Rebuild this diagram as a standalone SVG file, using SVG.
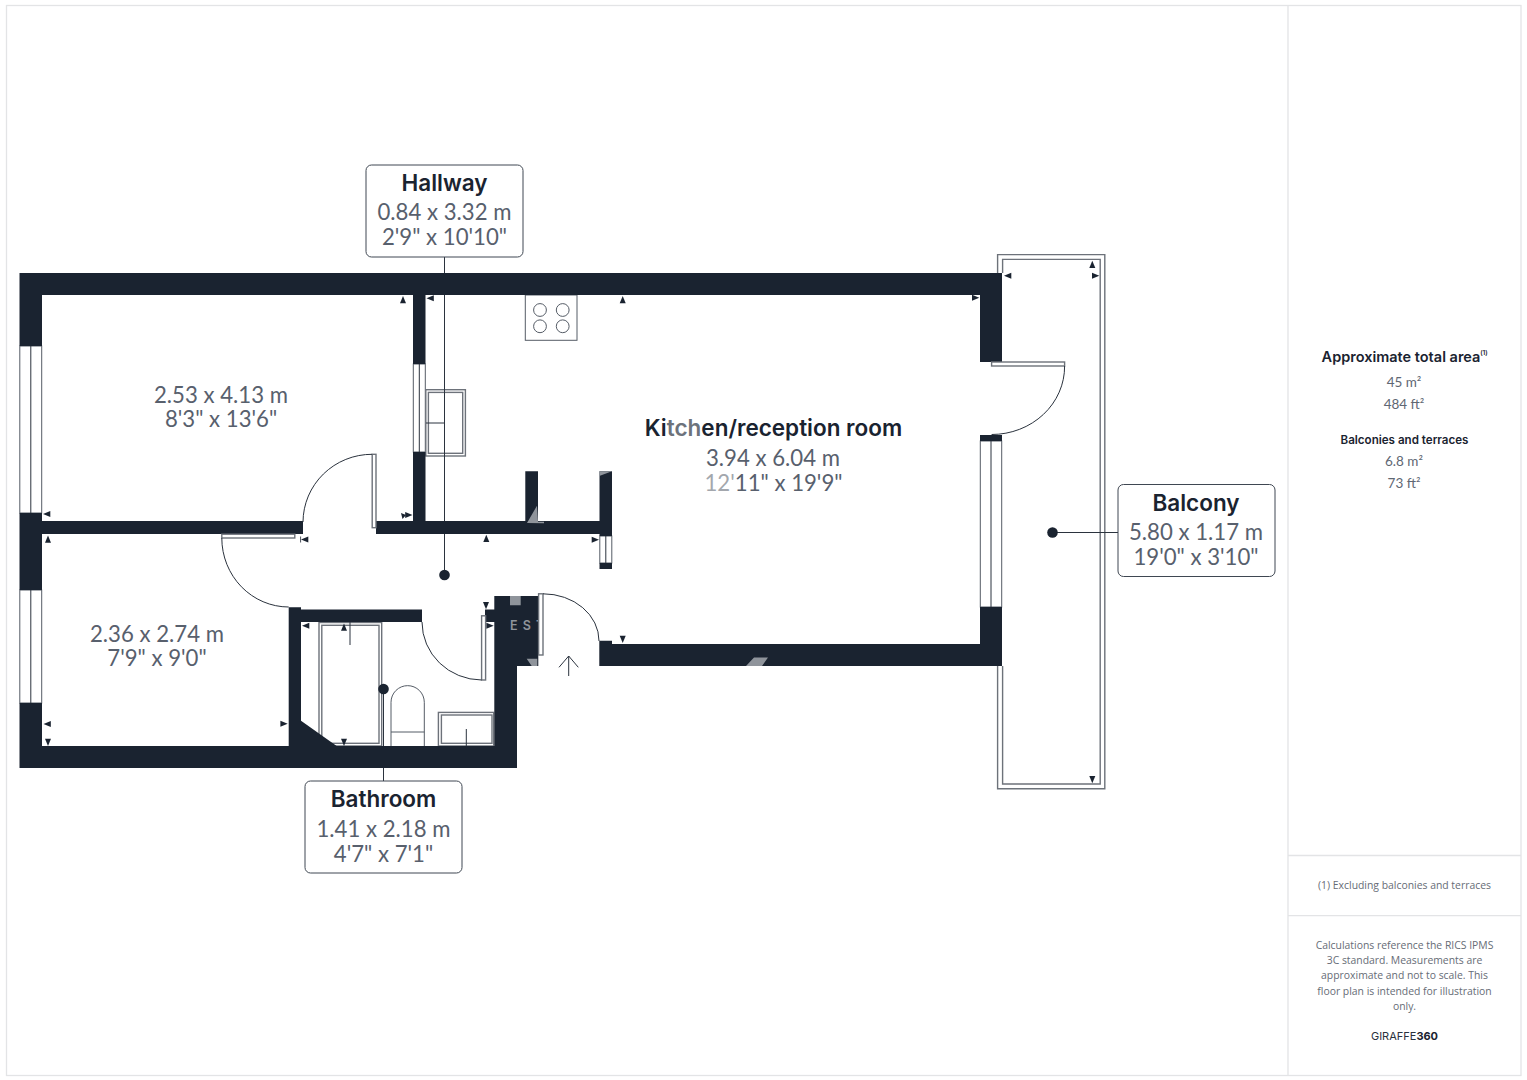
<svg xmlns="http://www.w3.org/2000/svg" width="1527" height="1080" viewBox="0 0 1527 1080">
<style>
.frame{fill:none;stroke:#e3e4e6;stroke-width:1.3}
.wall{fill:#1a2330}
.thin{fill:#fff;stroke:#555c66;stroke-width:1}
.thick{fill:#fff;stroke:#6d727a;stroke-width:1.4}
.open{fill:none;stroke:#6d727a;stroke-width:1.4}
.arc{fill:none;stroke:#2a323d;stroke-width:1}
.ghost{fill:#8f949b}
.lead{fill:none;stroke:#2b333e;stroke-width:1}
.dot{fill:#1a2330}
.box{fill:#fff;stroke:#3f4752;stroke-width:1}
.h{font-family:"Inter","Liberation Sans",sans-serif;font-weight:600;font-size:22.5px;fill:#1a2330;text-anchor:middle}
.d{font-family:"Lato","Liberation Sans",sans-serif;font-weight:400;font-size:22.2px;fill:#58606d;text-anchor:middle}
.sh{font-family:"Inter","Liberation Sans",sans-serif;font-weight:600;fill:#1a2330;text-anchor:middle}
.sv{font-family:"Lato","Liberation Sans",sans-serif;font-size:13.5px;fill:#606773;text-anchor:middle}
.n{font-family:"Open Sans","Noto Sans",sans-serif;font-size:10.4px;fill:#666c76;text-anchor:middle}
.m{fill:#1a2330}
</style>
<defs>
<path id="up" d="M0 0L3 7.3H-3Z"/>
<path id="dn" d="M0 0L3 -7.3H-3Z"/>
<path id="lf" d="M0 0L7.3 -3V3Z"/>
<path id="rt" d="M0 0L-7.3 -3V3Z"/>
<clipPath id="estclip"><rect x="500" y="610" width="38.6" height="30"/></clipPath>
</defs>

<g id="sheet-frame">
<rect class="frame" x="6.5" y="5.5" width="1514.5" height="1070"/>
<path class="frame" d="M1288 5.5V1075.5M1288 855.5H1521M1288 915.7H1521"/>
</g>

<g id="balcony-slab">
<path class="open" d="M997.6 273V254.6H1104.8V788.8H997.6V666"/>
<path class="open" d="M1002.6 273V259.4H1100.2V784H1002.6V666"/>
</g>

<g id="windows">
<g class="thin">
<rect x="19.8" y="346" width="21.9" height="167"/>
<rect x="19.8" y="590" width="21.9" height="113"/>
<rect x="413.3" y="364" width="12" height="88"/>
<rect x="599.8" y="536" width="12" height="27"/>
<rect x="980.3" y="441" width="21.4" height="166"/>
</g>
<path class="lead" d="M30.8 346V513M30.8 590V703M419.3 364V452M605.8 536V563M991 441V607"/>
</g>

<g id="fixtures">
<rect class="thin" x="525.3" y="295" width="51.7" height="45.3"/>
<g class="thin"><circle cx="540" cy="310" r="6.4"/><circle cx="562.7" cy="310" r="6.4"/><circle cx="540" cy="326.3" r="6.4"/><circle cx="562.7" cy="326.3" r="6.4"/></g>
<rect class="thick" x="425.8" y="389.7" width="39.6" height="66.3"/>
<rect class="thick" x="428.4" y="392.4" width="34.3" height="60.9"/>
<path class="lead" d="M426 423H445"/>
<rect class="thick" x="319" y="622.5" width="62.7" height="123.5"/>
<rect class="thick" x="321.8" y="625.3" width="57.2" height="118"/>
<path class="lead" d="M350 622V645"/>
<path class="thin" d="M391 746V702.3A16.6 16.6 0 0 1 424.3 702.3V746M391 732H424.3"/>
<rect class="thick" x="438.4" y="712.4" width="55.3" height="33.6"/>
<rect class="thick" x="441.4" y="715" width="50.6" height="28.3"/>
<path class="lead" d="M466.3 729V746"/>
<path class="lead" d="M559 667.3L568.7 656L578.3 667.3M568.7 656V676"/>
</g>

<g id="walls">
<path class="wall" d="M19.5 273H1002V362H980V295H425.5V364H413V295H42V346H19.5ZM19.5 513H42V521H303V534H42V590H19.5ZM19.5 703H42V746H288.7V607.3H301V609.5H422V622H301V720.7L336.7 746H494.3V622H485V609.5H494.3V596H538.3V666H517V768H19.5ZM413 452H425.5V521H525.3V471.3H538V521H599.5V471.3H612V536H599.5V534H376V521H413ZM599.5 563H612V569H599.5ZM980 435H1002V441H980ZM980 607H1002V666H599.3V640.7H612V644H980Z"/>
</g>

<g id="watermark-remnants">
<path class="ghost" d="M527 523L537 505.7L538 521.7L544 521.7V523.3ZM599.3 471.3H612L599.3 476ZM510 596H520.7V605.3H510ZM526.7 658.7H537.3V666H531.7ZM746 666L754 657.5H768L762 666Z"/>
<text clip-path="url(#estclip)" x="510" y="630" font-family="Inter,'Liberation Sans',sans-serif" font-weight="600" font-size="12.5" letter-spacing="5.2" fill="#8f949b">EST</text>
</g>

<g id="doors">
<rect class="thick" x="372.2" y="454.3" width="3.8" height="73.4"/>
<path class="arc" d="M372.2 454.3A69 68 0 0 0 303 522"/>
<rect class="thick" x="221.8" y="534.2" width="73" height="3.8"/>
<path class="arc" d="M221.8 538A67 69 0 0 0 288.7 607"/>
<rect class="thick" x="481.6" y="615.8" width="4" height="64.2"/>
<path class="arc" d="M481.6 680A60 58 0 0 1 422 622"/>
<rect class="thick" x="538.6" y="593.8" width="4.4" height="61.2"/>
<path class="arc" d="M543 593.8A56 47 0 0 1 599 641"/>
<rect class="thick" x="991.6" y="362" width="73" height="4"/>
<path class="arc" d="M1064.6 366A73 68 0 0 1 991.6 434.5"/>
</g>

<g id="dimension-ticks" class="m">
<use href="#lf" x="43" y="514"/><use href="#up" x="48" y="535.5"/><use href="#lf" x="301" y="539.5"/>
<path d="M300.6 536.5V542.5" stroke="#1a2330" stroke-width="0.8"/>
<use href="#up" x="403" y="296"/><use href="#lf" x="426.5" y="298.3"/><use href="#up" x="622.7" y="296"/>
<use href="#rt" x="412.5" y="515"/><path d="M401 513L406 515L402.5 519Z"/>
<use href="#up" x="486.3" y="534.8"/><use href="#rt" x="599" y="539.7"/>
<use href="#lf" x="302" y="625.7"/><use href="#up" x="344" y="623.4"/><use href="#dn" x="344" y="746"/>
<use href="#rt" x="287.7" y="723.7"/><use href="#dn" x="486" y="609.2"/><use href="#rt" x="493.7" y="625.7"/>
<use href="#dn" x="622.7" y="643"/><use href="#rt" x="979.3" y="297.7"/><use href="#lf" x="1004" y="275.7"/>
<use href="#rt" x="1099.3" y="275.7"/><use href="#up" x="1092.3" y="260.7"/><use href="#dn" x="1092.3" y="783.3"/>
<use href="#lf" x="43.5" y="724"/><use href="#dn" x="48" y="746"/>
</g>

<g id="connectors">
<path class="lead" d="M444.5 257V273M444.5 295V521M444.5 534V575"/>
<path class="lead" d="M383.5 689V746M383.5 768V781"/>
<path class="lead" d="M1052.5 532.5H1118"/>
<circle class="dot" cx="444.5" cy="575" r="5.3"/>
<circle class="dot" cx="383.5" cy="689" r="5.3"/>
<circle class="dot" cx="1052.5" cy="532.5" r="5.3"/>
</g>

<g id="room-bedroom-1">
<text class="d" x="221" y="403">2.53 x 4.13 m<tspan x="221" dy="24">8'3" x 13'6"</tspan></text>
</g>
<g id="room-bedroom-2">
<text class="d" x="157" y="642">2.36 x 2.74 m<tspan x="157" dy="24">7'9" x 9'0"</tspan></text>
</g>
<g id="room-kitchen">
<text class="h" x="773.5" y="436">Ki<tspan fill="#6d737c">tch</tspan>en/reception room</text>
<text class="d" x="773" y="466">3.94 x 6.04 m<tspan x="773.5" dy="24.5"><tspan fill="#a3a7ad">12'</tspan>11" x 19'9"</tspan></text>
</g>
<g id="label-hallway">
<rect class="box" x="366" y="165" width="157" height="92" rx="5.5"/>
<text class="h" x="444.5" y="191">Hallway</text>
<text class="d" x="444.5" y="220">0.84 x 3.32 m<tspan x="444.5" dy="25">2'9" x 10'10"</tspan></text>
</g>
<g id="label-bathroom">
<rect class="box" x="305" y="781" width="157" height="92" rx="5.5"/>
<text class="h" x="383.5" y="807">Bathroom</text>
<text class="d" x="383.5" y="837">1.41 x 2.18 m<tspan x="383.5" dy="24.5">4'7" x 7'1"</tspan></text>
</g>
<g id="label-balcony">
<rect class="box" x="1118" y="484.5" width="157" height="92" rx="5.5"/>
<text class="h" x="1196" y="511">Balcony</text>
<text class="d" x="1196" y="540">5.80 x 1.17 m<tspan x="1196" dy="25">19'0" x 3'10"</tspan></text>
</g>

<g id="summary">
<text class="sh" x="1401" y="362" font-size="14.5">Approximate total area</text>
<text class="sh" x="1484" y="355" font-size="6.5">(1)</text>
<text class="sv" x="1404" y="387">45 m²</text>
<text class="sv" x="1404" y="409">484 ft²</text>
<text class="sh" x="1404.5" y="444" font-size="11.6">Balconies and terraces</text>
<text class="sv" x="1404" y="466">6.8 m²</text>
<text class="sv" x="1404" y="488">73 ft²</text>
<text class="n" x="1404.5" y="889">(1) Excluding balconies and terraces</text>
<text class="n" x="1404.5" y="949">Calculations reference the RICS IPMS</text>
<text class="n" x="1404.5" y="964">3C standard. Measurements are</text>
<text class="n" x="1404.5" y="979">approximate and not to scale. This</text>
<text class="n" x="1404.5" y="994.5">floor plan is intended for illustration</text>
<text class="n" x="1404.5" y="1010">only.</text>
<text x="1404.5" y="1040" font-family="Inter,'Liberation Sans',sans-serif" font-size="11" fill="#2a323d" text-anchor="middle">GIRAFFE<tspan font-weight="700" fill="#1a2330">360</tspan></text>
</g>
</svg>
